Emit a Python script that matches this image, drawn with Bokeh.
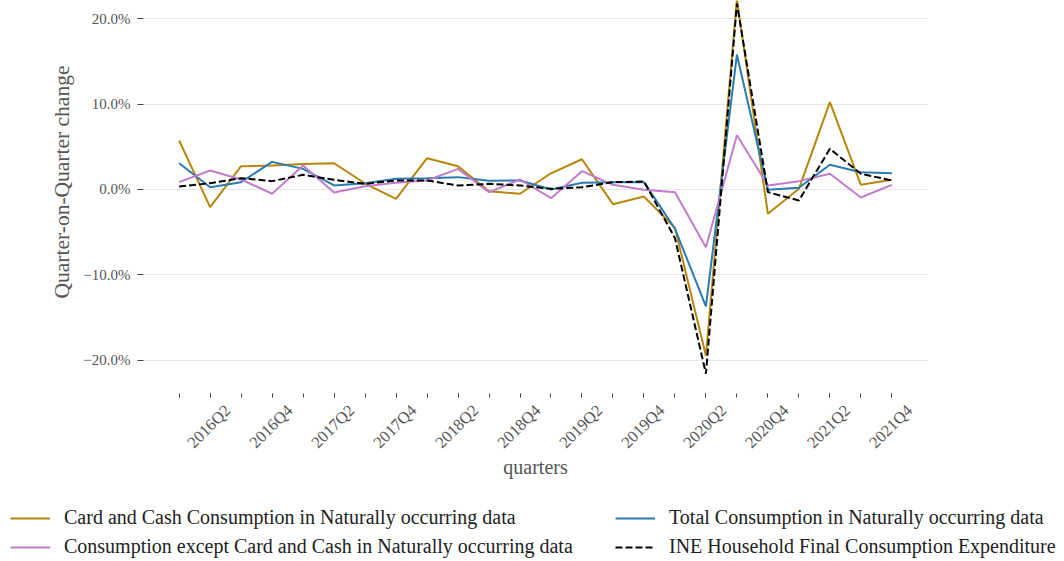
import math
from bokeh.plotting import figure
from bokeh.models import Range1d, FixedTicker, Legend, LegendItem, LinearAxis, Title
from bokeh.embed import file_html
from bokeh.resources import INLINE

quarters = [f"{y}Q{q}" for y in range(2016, 2022) for q in range(1, 5)]
card_cash = [5.74, -2.07, 2.73, 2.80, 3.00, 3.08, 0.70, -1.09, 3.67, 2.73, -0.20, -0.50,
             1.90, 3.55, -1.72, -0.82, -4.50, -19.5, 22.3, -2.85, 0.08, 10.24, 0.55, 1.13]
total = [3.08, 0.27, 0.86, 3.24, 2.42, 0.47, 0.74, 1.25, 1.33, 1.45, 1.02, 1.06,
         0.0, 0.78, 0.86, 0.86, -4.6, -13.7, 15.8, -0.04, 0.20, 2.90, 2.03, 1.91]
except_cc = [0.86, 2.23, 1.17, -0.50, 2.81, -0.35, 0.39, 0.78, 1.06, 2.42, -0.31, 1.17,
             -1.02, 2.15, 0.55, -0.04, -0.31, -6.76, 6.37, 0.47, 0.98, 1.84, -0.94, 0.55]
ine = [0.35, 0.74, 1.33, 0.98, 1.72, 1.13, 0.66, 1.06, 1.06, 0.47, 0.66, 0.47,
       0.08, 0.27, 0.86, 0.94, -5.7, -21.6, 21.8, -0.31, -1.29, 4.77, 1.84, 1.06]
y_ticks = [-20, -10, 0, 10, 20]

series = [
    ("Card and Cash Consumption in Naturally occurring data", card_cash, "#b8860b", "solid"),
    ("Consumption except Card and Cash in Naturally occurring data", except_cc, "#c17ccb", "solid"),
    ("Total Consumption in Naturally occurring data", total, "#2a7bb0", "solid"),
    ("INE Household Final Consumption Expenditure", ine, "black", "7 3"),
]

FONT = "Liberation Serif"
GREY = "#555555"
xs = list(range(len(quarters)))
label_idx = [i for i in xs if i % 2 == 1]
LABEL_SHIFT = 0.57  # centre rotated labels on their ticks

p = figure(width=1064, height=500, output_backend="svg", toolbar_location=None,
           x_range=Range1d(-1.15, 24.15), y_range=Range1d(-23.92, 22.16),
           min_border_left=143, min_border_right=137, min_border_top=0, min_border_bottom=107)
p.outline_line_color = None
p.background_fill_color = "white"
p.border_fill_color = "white"

for k in [0, 2, 1, 3]:
    name, vals, col, dash = series[k]
    p.line(xs, vals, line_color=col, line_width=2, line_dash=dash)

# x axis: ticks only
xa = p.xaxis[0]
xa.ticker = FixedTicker(ticks=label_idx, minor_ticks=xs)
xa.major_label_overrides = {i: "" for i in label_idx}
xa.major_label_text_font_size = "1px"
xa.major_label_standoff = 0
xa.axis_line_color = None
xa.major_tick_in = 0
xa.major_tick_out = 4
xa.minor_tick_in = 0
xa.minor_tick_out = 4
xa.major_tick_line_color = "#444444"
xa.minor_tick_line_color = "#444444"

# x axis: labels only (shifted so the rotated text is centred on the tick)
lab_ticks = [i + LABEL_SHIFT for i in label_idx]
xl = LinearAxis(ticker=FixedTicker(ticks=lab_ticks, minor_ticks=[]))
xl.major_label_overrides = {t: quarters[i] for t, i in zip(lab_ticks, label_idx)}
xl.major_label_orientation = math.pi / 4
xl.axis_line_color = None
xl.major_tick_line_color = None
xl.minor_tick_line_color = None
xl.major_tick_in = 0
xl.major_tick_out = 0
xl.major_label_standoff = 10
xl.major_label_text_font = FONT
xl.major_label_text_font_size = "16.5px"
xl.major_label_text_color = GREY
xl.axis_label = "quarters"
xl.axis_label_text_font = FONT
xl.axis_label_text_font_style = "normal"
xl.axis_label_text_font_size = "20px"
xl.axis_label_text_color = GREY
xl.axis_label_standoff = -6
p.add_layout(xl, "below")

# y axis
p.yaxis.ticker = FixedTicker(ticks=y_ticks)
p.yaxis.major_label_overrides = {v: (f"{v:.1f}%" if v >= 0 else f"\u2212{abs(v):.1f}%") for v in y_ticks}
p.yaxis.axis_line_color = None
p.yaxis.major_tick_in = 0
p.yaxis.major_tick_out = 6
p.yaxis.minor_tick_line_color = None
p.yaxis.major_tick_line_color = "#444444"
p.yaxis.major_label_text_font = FONT
p.yaxis.major_label_text_font_size = "15px"
p.yaxis.major_label_text_color = GREY
p.yaxis.major_label_standoff = 7

p.xgrid.grid_line_color = None
p.ygrid.grid_line_color = "#e6e6e6"
p.ygrid.grid_line_width = 1

ytitle = Title(text="Quarter-on-Quarter change", align="left", offset=95,
               text_font=FONT, text_font_size="21.5px", text_font_style="normal",
               text_color=GREY, standoff=13)
p.add_layout(ytitle, "left")

# legend strip below the chart: the same series drawn outside its visible range, used only for the key
pl = figure(width=1064, height=61, output_backend="svg", toolbar_location=None,
            x_range=Range1d(1000, 1001), y_range=Range1d(1000, 1001),
            min_border_left=0, min_border_right=0, min_border_top=0, min_border_bottom=0)
pl.outline_line_color = None
pl.axis.visible = False
pl.grid.visible = False
items = []
for name, vals, col, dash in series:
    r = pl.line(xs, vals, line_color=col, line_width=2, line_dash=dash)
    items.append(LegendItem(label=name, renderers=[r]))

legend = Legend(items=items, orientation="vertical", nrows=2, location=(10, 3))
legend.padding = 0
legend.margin = 0
legend.spacing = 6
legend.glyph_width = 40
legend.glyph_height = 20
legend.label_height = 20
legend.label_width = 545
legend.label_standoff = 14
legend.border_line_color = None
legend.background_fill_alpha = 0
legend.label_text_font = FONT
legend.label_text_font_size = "20px"
legend.label_text_color = "#222222"
pl.add_layout(legend, "center")

open("out.html", "w").write(file_html((p, pl), INLINE))
